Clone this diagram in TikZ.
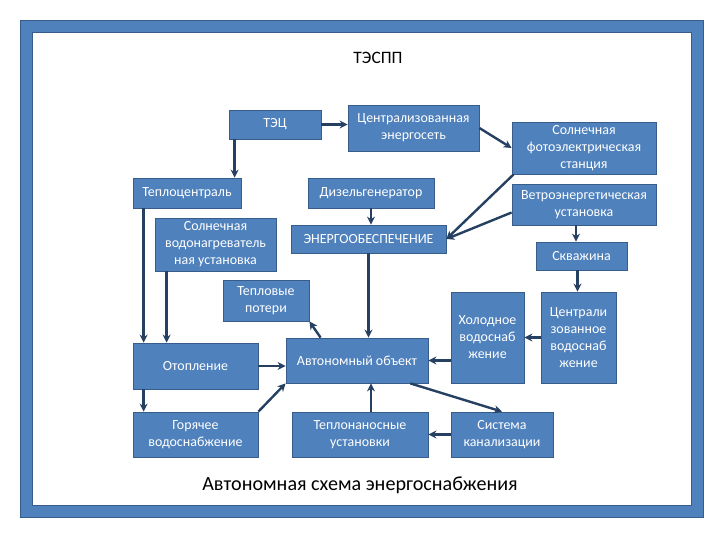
\documentclass[tikz,border=0pt]{standalone}
\usepackage{fontspec}
\setmainfont{Carlito}
\usepackage{tikz}
\usetikzlibrary{arrows.meta}
\definecolor{boxblue}{HTML}{4F81BD}
\definecolor{boxedge}{HTML}{385D8A}
\definecolor{arrblue}{HTML}{254061}
\begin{document}
\begin{tikzpicture}[x=1bp, y=-1bp,
  box/.style={rectangle, fill=boxblue, draw=boxedge, line width=0.8bp, text=white, align=center, inner sep=1bp, font=\fontsize{14}{17}\selectfont},
  arr/.style={-{Stealth[length=8bp,width=8bp]}, line width=2.4bp, draw=arrblue}]
  \useasboundingbox (0,0) rectangle (720,540);
  \draw[line width=12bp, boxblue] (26,26.5) rectangle (697.5,511.5);
  \draw[line width=0.8bp, boxedge] (20,20.5) rectangle (703.5,517.5);
  \draw[line width=0.8bp, boxedge] (32,32.5) rectangle (691.5,505.5);
  \node[font=\fontsize{17.5}{20}\selectfont] (title) at (378,58) {ТЭСПП};
  \node[font=\fontsize{20.2}{24}\selectfont] (caption) at (360,485) {Автономная схема энергоснабжения};

  \node[box, minimum width=92bp, minimum height=29bp] (tec) at (275,124.5) {ТЭЦ};
  \node[box, minimum width=131bp, minimum height=46bp] (cseti) at (413.5,128) {Централизованная\\энергосеть};
  \node[box, minimum width=144bp, minimum height=52bp] (sfes) at (584,148) {Солнечная\\фотоэлектрическая\\станция};
  \node[box, minimum width=108bp, minimum height=30bp] (teplo) at (187,193) {Теплоцентраль};
  \node[box, minimum width=126bp, minimum height=30bp] (dizel) at (371,193) {Дизельгенератор};
  \node[box, minimum width=144bp, minimum height=41bp] (vetro) at (584,204.5) {Ветроэнергетическая\\установка};
  \node[box, minimum width=121bp, minimum height=53bp] (svu) at (215.5,244.5) {Солнечная\\водонагреватель\\ная установка};
  \node[box, minimum width=155bp, minimum height=28bp] (energo) at (368.5,239) {ЭНЕРГООБЕСПЕЧЕНИЕ};
  \node[box, minimum width=91bp, minimum height=28bp] (skv) at (581.5,256) {Скважина};
  \node[box, minimum width=86bp, minimum height=41bp] (poteri) at (266,300.5) {Тепловые\\потери};
  \node[box, minimum width=73bp, minimum height=91bp] (holod) at (487.5,337.5) {Холодное\\водоснаб\\жение};
  \node[box, minimum width=75bp, minimum height=91bp] (cvs) at (578.5,337.5) {Централи\\зованное\\водоснаб\\жение};
  \node[box, minimum width=125bp, minimum height=46bp] (otopl) at (195.5,366) {Отопление};
  \node[box, minimum width=142bp, minimum height=45bp] (obj) at (357,360.5) {Автономный объект};
  \node[box, minimum width=125bp, minimum height=45bp] (gvs) at (195.5,434.5) {Горячее\\водоснабжение};
  \node[box, minimum width=136bp, minimum height=45bp] (tnu) at (360,434.5) {Теплонаносные\\установки};
  \node[box, minimum width=102bp, minimum height=45bp] (kanal) at (502,434.5) {Система\\канализации};

  \draw[arr] (tec.east) -- (tec.east -| cseti.west);
  \draw[arr] ([xshift=6bp]tec.south west) -- ([xshift=6bp]tec.south west |- teplo.north);
  \draw[arr] (cseti.east) -- (sfes.west);
  \draw[arr] ([xshift=2bp]sfes.south west) -- (energo.east);
  \draw[arr] ([yshift=-8bp]vetro.west) -- (energo.east);
  \draw[arr] (dizel.south) -- (dizel.south |- energo.north);
  \draw[arr] (energo.south) -- (energo.south |- obj.north);
  \draw[arr] ([xshift=-8bp]vetro.south) -- ([xshift=-8bp]vetro.south |- skv.north);
  \draw[arr] ([xshift=-4bp]skv.south) -- ([xshift=-4bp]skv.south |- cvs.north);
  \draw[arr] (cvs.west) -- (holod.east);
  \draw[arr] (holod.west |- obj.east) -- (obj.east);
  \draw[arr] ([xshift=-18bp]obj.south east) -- (kanal.north);
  \draw[arr] (kanal.west) -- (tnu.east);
  \draw[arr] ([xshift=11bp]tnu.north) -- ([xshift=11bp]tnu.north |- obj.south);
  \draw[arr] ([xshift=35bp]obj.north west) -- (poteri.south east);
  \draw[arr] (otopl.east) -- (otopl.east -| obj.west);
  \draw[arr] (gvs.north east) -- (obj.south west);
  \draw[arr] ([xshift=11bp]otopl.south west) -- ([xshift=11bp]otopl.south west |- gvs.north);
  \draw[arr] ([xshift=11bp]teplo.south west) -- ([xshift=11bp]teplo.south west |- otopl.north);
  \draw[arr] ([xshift=12bp]svu.south west) -- ([xshift=12bp]svu.south west |- otopl.north);
\end{tikzpicture}
\end{document}
